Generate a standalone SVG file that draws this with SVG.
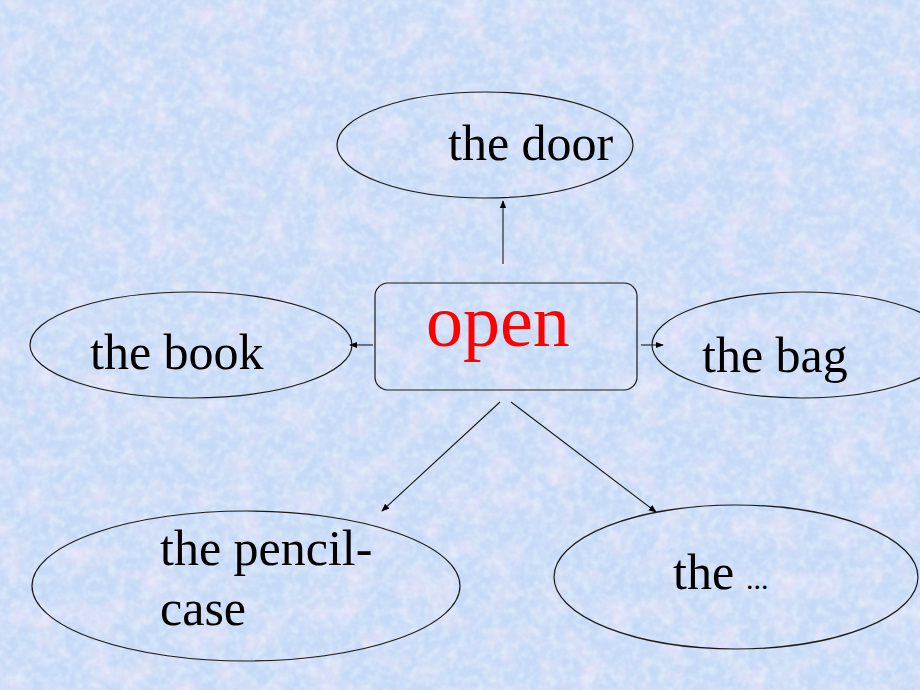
<svg xmlns="http://www.w3.org/2000/svg" width="920" height="690" viewBox="0 0 920 690">
<defs>
<style>
.node{fill:none;stroke:#1a1a1a;stroke-width:1.2}
.lbl{font-family:"Liberation Serif","Times New Roman",serif;font-size:50px;fill:#000}
.conn{stroke:#1a1a1a;stroke-width:1.1;fill:none;marker-end:url(#ah)}
</style>
<marker id="ah" viewBox="0 0 10 10" refX="9" refY="5" markerWidth="8" markerHeight="8" markerUnits="userSpaceOnUse" orient="auto">
<path d="M0,1 L10,5 L0,9 z" fill="#000"/>
</marker>
<filter id="tex" x="0" y="0" width="100%" height="100%">
<feTurbulence type="fractalNoise" baseFrequency="0.035" numOctaves="4" seed="7"/>
<feColorMatrix type="matrix" values="0 0 0 0 0.93  0 0 0 0 0.80  0 0 0 0 0.95  1.8 0 0 0 -0.75"/>
</filter>
<filter id="tex2" x="0" y="0" width="100%" height="100%">
<feTurbulence type="fractalNoise" baseFrequency="0.12" numOctaves="2" seed="2"/>
<feColorMatrix type="matrix" values="0 0 0 0 0.85  0 0 0 0 0.95  0 0 0 0 1  0 1.6 0 0 -0.62"/>
</filter>
</defs>
<rect width="920" height="690" fill="#c6daf6"/>
<rect width="920" height="690" filter="url(#tex)" opacity="0.75"/>
<rect width="920" height="690" filter="url(#tex2)" opacity="0.6"/>

<g id="connectors">
<line class="conn" x1="503" y1="264" x2="503" y2="201"/>
<line class="conn" x1="373" y1="345" x2="350" y2="345"/>
<line class="conn" x1="641" y1="345" x2="663" y2="345"/>
<line class="conn" x1="500" y1="402" x2="382" y2="511"/>
<line class="conn" x1="511" y1="402" x2="656" y2="512"/>
</g>

<g id="node-open">
<rect class="node" x="375" y="283" width="262" height="107" rx="13"/>
<text x="426" y="346" font-family="Liberation Serif, Times New Roman, serif" font-size="74" fill="#ff0000">open</text>
</g>

<g id="node-door">
<ellipse class="node" cx="485" cy="145" rx="148" ry="53"/>
<text class="lbl" x="448" y="160">the door</text>
</g>

<g id="node-book">
<ellipse class="node" cx="191" cy="345" rx="161" ry="53"/>
<text class="lbl" x="90" y="369">the book</text>
</g>

<g id="node-bag">
<ellipse class="node" cx="802" cy="345" rx="150" ry="53"/>
<text class="lbl" x="702" y="372">the bag</text>
</g>

<g id="node-pencilcase">
<ellipse class="node" cx="246" cy="586" rx="214" ry="75"/>
<text class="lbl" x="160" y="565">the pencil-</text>
<text class="lbl" x="160" y="625">case</text>
</g>

<g id="node-the">
<ellipse class="node" cx="736" cy="577" rx="182" ry="72"/>
<text class="lbl" x="673" y="589">the<tspan font-size="30" dx="12">...</tspan></text>
</g>
</svg>
